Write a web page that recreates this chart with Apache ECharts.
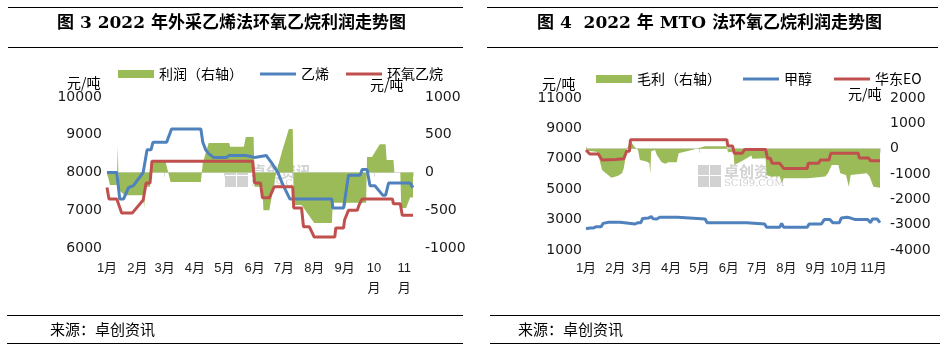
<!DOCTYPE html>
<html>
<head>
<meta charset="utf-8">
<script src="https://cdn.jsdelivr.net/npm/echarts@6/dist/echarts.min.js"></script>
<style>
html, body { margin: 0; padding: 0; background: #fff; }
#main { width: 949px; height: 352px; }
</style>
</head>
<body>
<div id="main"></div>
<script>
// 月份刻度
const monthStarts = ['01-01', '02-01', '03-01', '04-01', '05-01', '06-01', '07-01', '08-01', '09-01', '10-01', '11-01'];
const monthNames = ['1月', '2月', '3月', '4月', '5月', '6月', '7月', '8月', '9月', '10月', '11月'];

// 图3 外采乙烯法
const ethDates = ['01-01', '01-11', '01-14', '01-18', '01-23', '01-28', '02-07', '02-11', '02-15', '02-17', '03-03', '03-08', '04-07', '04-09', '04-12', '04-15', '04-20', '05-03', '05-06', '05-23', '05-25', '06-01', '06-03', '06-13', '06-18', '06-25', '06-30', '07-07', '08-19', '08-20', '08-31', '09-05', '09-17', '09-19', '09-24', '09-27', '10-02', '10-10', '10-13', '10-16', '11-07', '11-10'];
const ethValues = [8000, 8000, 7300, 7300, 7600, 7650, 8000, 8600, 8600, 8800, 8800, 9150, 9150, 8800, 8600, 8500, 8400, 8400, 8450, 8450, 8400, 8400, 8450, 8450, 8270, 7990, 7670, 7300, 7300, 7060, 7060, 7930, 7930, 8080, 8080, 7650, 7650, 7400, 7400, 7720, 7720, 7600];

const eo3Dates = ['01-01', '01-03', '01-11', '01-16', '01-27', '02-07', '02-09', '02-10', '02-14', '02-16', '05-30', '06-01', '06-07', '06-09', '06-16', '06-21', '07-10', '07-11', '07-19', '07-21', '07-27', '08-01', '08-22', '08-23', '08-31', '09-01', '09-05', '09-14', '09-16', '09-19', '10-20', '10-21', '10-28', '10-30', '11-10'];
const eo3Values = [7600, 7300, 7300, 6930, 6930, 7270, 7270, 7720, 7720, 8300, 8300, 7720, 7720, 7330, 7330, 7620, 7620, 7060, 7060, 6560, 6560, 6290, 6290, 6530, 6530, 6740, 7000, 7000, 7150, 7300, 7300, 7170, 7170, 6870, 6870];

const profit3Dates = ['01-01', '01-04', '01-11', '01-12', '01-13', '01-19', '02-07', '02-08', '02-09', '02-14', '02-16', '03-02', '03-07', '04-07', '04-09', '04-15', '05-06', '05-07', '05-21', '05-23', '05-31', '06-01', '06-09', '06-10', '06-16', '06-23', '06-30', '07-06', '07-10', '07-11', '07-19', '08-01', '08-19', '08-20', '08-31', '09-01', '09-03', '09-23', '09-24', '09-29', '10-07', '10-13', '10-14', '10-21', '10-22', '10-28', '10-29', '11-03', '11-07', '11-10'];
const profit3Values = [0, -165, -165, 350, -230, -300, -300, -480, -190, -190, 140, 140, -125, -125, 125, 390, 390, 340, 340, 470, 470, -190, -190, -500, -500, 0, 320, 575, 575, -430, -430, -670, -670, -400, -400, -480, -400, -400, 205, 205, 375, 375, 165, 165, 0, 0, -470, -470, -330, -330];

// 图4 MTO法
const meohDates = ['01-01', '01-05', '01-07', '01-09', '01-12', '01-17', '01-19', '01-25', '02-06', '02-08', '02-22', '02-25', '02-28', '03-02', '03-08', '03-11', '03-13', '03-17', '03-20', '04-08', '04-10', '05-07', '05-09', '06-20', '06-22', '07-09', '07-11', '07-25', '07-27', '07-29', '08-23', '08-25', '09-07', '09-10', '09-16', '09-19', '09-26', '09-28', '10-04', '10-08', '10-13', '10-26', '10-29', '10-31', '11-05', '11-08'];
const meohValues = [2400, 2450, 2400, 2450, 2530, 2530, 2750, 2820, 2820, 2710, 2710, 2800, 2800, 3080, 3100, 3200, 3050, 3040, 3150, 3150, 3040, 3040, 2800, 2800, 2710, 2710, 2500, 2500, 2750, 2500, 2500, 2710, 2710, 3000, 3000, 2800, 2800, 3100, 3150, 3100, 3000, 3000, 2800, 3040, 3040, 2800];

const eo4Dates = ['01-01', '01-05', '01-14', '01-18', '02-01', '02-10', '02-12', '02-13', '02-16', '02-17', '05-30', '05-31', '06-05', '06-07', '06-15', '06-18', '07-10', '07-12', '07-15', '07-17', '07-25', '07-29', '08-23', '08-24', '09-04', '09-06', '09-15', '09-17', '10-16', '10-17', '10-27', '10-29', '11-08'];
const eo4Values = [7580, 7320, 7320, 6920, 6950, 7000, 7000, 7500, 7500, 8250, 8250, 7850, 7850, 7360, 7360, 7620, 7620, 7030, 7030, 6700, 6700, 6370, 6370, 6700, 6700, 6920, 6920, 7360, 7360, 7050, 7050, 6870, 6870];

const profit4Dates = ['01-01', '01-03', '01-12', '01-14', '01-18', '01-23', '01-28', '02-04', '02-08', '02-10', '02-13', '02-15', '02-18', '02-22', '02-25', '02-27', '03-06', '03-09', '03-10', '03-11', '03-15', '03-17', '03-22', '03-26', '03-29', '04-07', '04-09', '04-23', '05-07', '05-30', '05-31', '06-06', '06-07', '06-15', '06-25', '06-26', '07-10', '07-11', '07-15', '07-25', '07-27', '07-29', '08-24', '09-11', '09-14', '09-18', '09-25', '09-27', '10-03', '10-06', '10-08', '10-25', '10-28', '11-01', '11-08'];
const profit4Values = [100, -80, -120, -250, -840, -1000, -1150, -1070, -970, -770, -50, 150, 250, 50, -50, -450, -510, -580, -1000, -100, -50, -250, -540, -600, -540, -540, -180, -50, 100, 100, -120, -150, -640, -490, -270, -400, -380, -1040, -1100, -1100, -1370, -1170, -1170, -1100, -970, -640, -640, -970, -1040, -1500, -1040, -970, -1100, -1500, -1540];

const GREEN = '#9BBB59', BLUE = '#4F81BD', RED = '#C0504D';
const NUM_FONT = '"DejaVu Sans", "Noto Sans CJK SC", sans-serif';
const MONTH_FONT = '"Liberation Sans", "Noto Sans CJK SC", sans-serif';
const CJK_FONT = '"Noto Sans CJK SC", sans-serif';
const LINE_ICON = 'path://M0,0H36V3H0Z';

function dayOf(md) {
    const [m, d] = md.split('-').map(Number);
    return (Date.UTC(2022, m - 1, d) - Date.UTC(2022, 0, 1)) / 86400000;
}
function pairs(dates, values) {
    return dates.map((d, i) => [dayOf(d), values[i]]);
}
const monthDays = monthStarts.map(dayOf);

function xAxisOf(grid, max, wrap, margin) {
    return {
        type: 'value', gridIndex: grid, min: 0, max: max,
        axisLine: { lineStyle: { color: '#D9D9D9' } },
        axisTick: { show: true, length: 4, customValues: monthDays.concat([max]), lineStyle: { color: '#D9D9D9' } },
        axisLabel: {
            customValues: monthDays, margin: margin, showMinLabel: true, showMaxLabel: true, hideOverlap: false,
            fontFamily: MONTH_FONT, fontSize: 13, color: '#1a1a1a', lineHeight: 20,
            formatter: v => {
                const name = monthNames[monthDays.indexOf(v)] || '';
                return wrap && name.length > 2 ? name.slice(0, 2) + '\n' + name.slice(2) : name;
            }
        },
        splitLine: { show: false }
    };
}
function yAxisOf(grid, pos, min, max, interval, margin) {
    return {
        type: 'value', gridIndex: grid, position: pos, min: min, max: max, interval: interval,
        axisLine: { show: false }, axisTick: { show: false }, splitLine: { show: false },
        axisLabel: { margin: margin, fontFamily: NUM_FONT, fontSize: 14, color: '#1a1a1a', formatter: v => String(v) }
    };
}
function areaSeries(name, x, y, data) {
    return {
        name: name, type: 'line', xAxisIndex: x, yAxisIndex: y, data: data,
        showSymbol: false, symbol: 'none', lineStyle: { width: 0 }, itemStyle: { color: GREEN },
        areaStyle: { color: GREEN, opacity: 1, origin: 0 }, animation: false
    };
}
function lineSeries(name, x, y, color, data) {
    return {
        name: name, type: 'line', xAxisIndex: x, yAxisIndex: y, data: data,
        showSymbol: false, symbol: 'none', lineStyle: { width: 3, color: color }, itemStyle: { color: color },
        animation: false
    };
}
function hline(x1, x2, y) {
    return { type: 'line', shape: { x1: x1, y1: y, x2: x2, y2: y }, style: { stroke: '#000', lineWidth: 1.2 } };
}
function txt(x, y, text, size, opts) {
    return {
        type: 'text', x: x, y: y, z: 10,
        style: Object.assign({ text: text, fontSize: size, fontFamily: CJK_FONT, fill: '#000', textVerticalAlign: 'middle' }, opts || {})
    };
}
function watermark(x, y) {
    const c = '#d2d2d2';
    return [
        { type: 'rect', z: 0, shape: { x: x, y: y, width: 11, height: 10 }, style: { fill: c } },
        { type: 'rect', z: 0, shape: { x: x + 12, y: y, width: 11, height: 10 }, style: { fill: c } },
        { type: 'rect', z: 0, shape: { x: x, y: y + 11, width: 11, height: 11 }, style: { fill: c } },
        { type: 'rect', z: 0, shape: { x: x + 12, y: y + 11, width: 11, height: 11 }, style: { fill: c } },
        { type: 'text', z: 0, x: x + 26, y: y + 6, style: { text: '卓创资讯', fontSize: 15, fontWeight: 'bold', fontFamily: CJK_FONT, fill: c, textVerticalAlign: 'middle' } },
        { type: 'text', z: 0, x: x + 26, y: y + 18, style: { text: 'SCI99.COM', fontSize: 10, fontFamily: '"DejaVu Serif", serif', fill: c, textVerticalAlign: 'middle' } }
    ];
}

const chart = echarts.init(document.getElementById('main'), null, { renderer: 'canvas' });
const titleFont = '"DejaVu Serif", "Noto Sans CJK SC", serif';

chart.setOption({
    backgroundColor: '#fff',
    animation: false,
    grid: [
        { left: 107, top: 97, width: 306, height: 151 },
        { left: 586, top: 98, width: 294, height: 152 }
    ],
    legend: [
        {
            left: 113, top: 62, itemWidth: 36, itemHeight: 8, itemGap: 17,
            textStyle: { fontFamily: CJK_FONT, fontSize: 14, color: '#000' },
            data: [{ name: '利润（右轴）', icon: 'rect' }, { name: '乙烯', icon: LINE_ICON }, { name: '环氧乙烷', icon: LINE_ICON }]
        },
        {
            left: 591, top: 67, itemWidth: 36, itemHeight: 8, itemGap: 22,
            textStyle: { fontFamily: CJK_FONT, fontSize: 14, color: '#000' },
            data: [{ name: '毛利（右轴）', icon: 'rect' }, { name: '甲醇', icon: LINE_ICON }, { name: '华东EO', icon: LINE_ICON }]
        }
    ],
    xAxis: [
        xAxisOf(0, 313, true, 10),
        xAxisOf(1, 311, false, 8)
    ],
    yAxis: [
        yAxisOf(0, 'left', 6000, 10000, 1000, 5),
        yAxisOf(0, 'right', -1000, 1000, 500, 12),
        yAxisOf(1, 'left', 1000, 11000, 2000, 4),
        yAxisOf(1, 'right', -4000, 2000, 1000, 10)
    ],
    series: [
        areaSeries('利润（右轴）', 0, 1, pairs(profit3Dates, profit3Values)),
        lineSeries('乙烯', 0, 0, BLUE, pairs(ethDates, ethValues)),
        lineSeries('环氧乙烷', 0, 0, RED, pairs(eo3Dates, eo3Values)),
        areaSeries('毛利（右轴）', 1, 3, pairs(profit4Dates, profit4Values)),
        lineSeries('甲醇', 1, 2, BLUE, pairs(meohDates, meohValues)),
        lineSeries('华东EO', 1, 2, RED, pairs(eo4Dates, eo4Values))
    ],
    graphic: [].concat(
        watermark(225, 165),
        watermark(698, 165),
        [
            hline(8, 463, 7.5), hline(8, 463, 47.5),
            hline(487, 938, 7.5), hline(487, 938, 47.5),
            hline(7, 463, 315.5), hline(7, 463, 343.5),
            hline(490, 940, 315.5), hline(490, 940, 343.5),
            txt(57, 24, '图 3 2022 年外采乙烯法环氧乙烷利润走势图', 17, { fontWeight: 'bold', fontFamily: titleFont }),
            txt(537, 24, '图 4  2022 年 MTO 法环氧乙烷利润走势图', 17, { fontWeight: 'bold', fontFamily: titleFont }),
            txt(50, 329, '来源：卓创资讯', 15),
            txt(518, 329, '来源：卓创资讯', 15),
            txt(67, 83, '元/吨', 14),
            txt(370, 85, '元/吨', 14),
            txt(542, 84, '元/吨', 14),
            txt(848, 94, '元/吨', 14)
        ]
    )
});
</script>
</body>
</html>
